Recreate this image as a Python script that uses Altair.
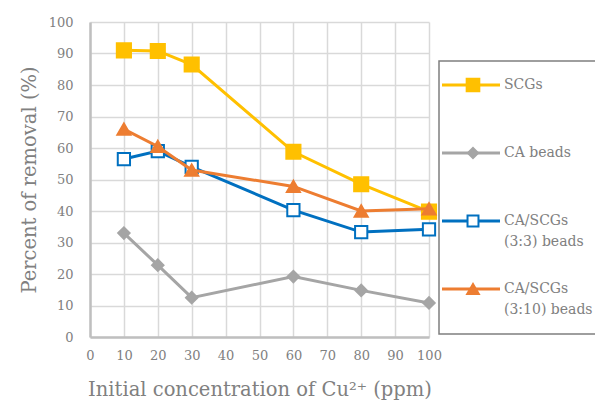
import altair as alt
import pandas as pd

conc = [10, 20, 30, 60, 80, 100]
series_names = ["SCGs", "CA beads", "CA/SCGs (3:3) beads", "CA/SCGs (3:10) beads"]
scgs = [91.0, 90.8, 86.5, 58.8, 48.5, 39.8]
ca_beads = [33.0, 22.8, 12.5, 19.2, 14.8, 10.8]
ca_scgs_33 = [56.5, 59.0, 54.0, 40.3, 33.3, 34.2]
ca_scgs_310 = [66.0, 60.5, 53.0, 47.8, 40.0, 40.7]
legend_lines = [["SCGs"], ["CA beads"], ["CA/SCGs", "(3:3) beads"], ["CA/SCGs", "(3:10) beads"]]

colors = ["#FFC000", "#A5A5A5", "#0070C0", "#ED7D31"]
shapes = ["square", "diamond", "square", "triangle-up"]
sizes = [200, 130, 150, 170]
fills = ["#FFC000", "#A5A5A5", "white", "#ED7D31"]

values = [scgs, ca_beads, ca_scgs_33, ca_scgs_310]
FONT = "DejaVu Serif"
GREY = "#808080"

W, H = 339, 315

layers = []
xscale = alt.Scale(domain=[0, 100])
yscale = alt.Scale(domain=[0, 100])

for i, (name, vals) in enumerate(zip(series_names, values)):
    df = pd.DataFrame({"conc": conc, "removal": vals, "series": name})
    base = alt.Chart(df)
    enc = dict(
        x=alt.X("conc:Q", scale=xscale,
                axis=alt.Axis(values=list(range(0, 101, 10)), title="Initial concentration of Cu²⁺ (ppm)")),
        y=alt.Y("removal:Q", scale=yscale,
                axis=alt.Axis(values=list(range(0, 101, 10)), title="Percent of removal (%)")),
    )
    line = base.mark_line(color=colors[i], strokeWidth=3).encode(**enc)
    pts = base.mark_point(shape=shapes[i], size=sizes[i], filled=False, fill=fills[i], fillOpacity=1,
                          stroke=colors[i], strokeWidth=2, opacity=1).encode(**enc)
    layers += [line, pts]

# legend box
leg_left, leg_top, leg_bottom = 349, 39, 312
box = alt.Chart(pd.DataFrame({"a": [0]})).mark_rect(fill="white", stroke="#7f7f7f", strokeWidth=1.5).encode(
    x=alt.value(leg_left), x2=alt.value(leg_left + 200), y=alt.value(leg_top), y2=alt.value(leg_bottom))
layers.append(box)

row_y = [63, 131, 199, 267]
for i, name in enumerate(series_names):
    ldf = pd.DataFrame({"series": [name]})
    c = alt.Chart(ldf)
    yv = row_y[i]
    layers.append(c.mark_rule(color=colors[i], strokeWidth=3).encode(
        x=alt.value(352), x2=alt.value(410), y=alt.value(yv)))
    layers.append(c.mark_point(shape=shapes[i], size=sizes[i] * 0.8, filled=False, fill=fills[i], fillOpacity=1,
                               stroke=colors[i], strokeWidth=2, opacity=1).encode(
        x=alt.value(383), y=alt.value(yv)))
    for j, txt in enumerate(legend_lines[i]):
        layers.append(alt.Chart(pd.DataFrame({"t": [txt]})).mark_text(
            align="left", baseline="middle", font=FONT, fontSize=14, color=GREY).encode(
            x=alt.value(414), y=alt.value(yv + j * 21), text="t:N"))

chart = alt.layer(*layers).properties(
    width=W, height=H,
    autosize=alt.AutoSizeParams(type="none"),
    padding={"left": 90, "top": 22, "right": 166, "bottom": 74},
).configure_view(stroke=None).configure_axis(
    labelFont=FONT, titleFont=FONT, labelColor=GREY, titleColor=GREY,
    labelFontSize=13, titleFontSize=19.5, titleFontWeight="normal",
    gridColor="#D9D9D9", gridWidth=1.5, domainColor="#BFBFBF", domainWidth=2.5,
    ticks=False, labelOverlap=False, labelFlush=False,
).configure_axisX(labelPadding=12, titlePadding=18, grid=True
).configure_axisY(labelPadding=17, titlePadding=9, grid=True)

chart.save("out.html", embed_options={"renderer": "svg", "actions": False})
